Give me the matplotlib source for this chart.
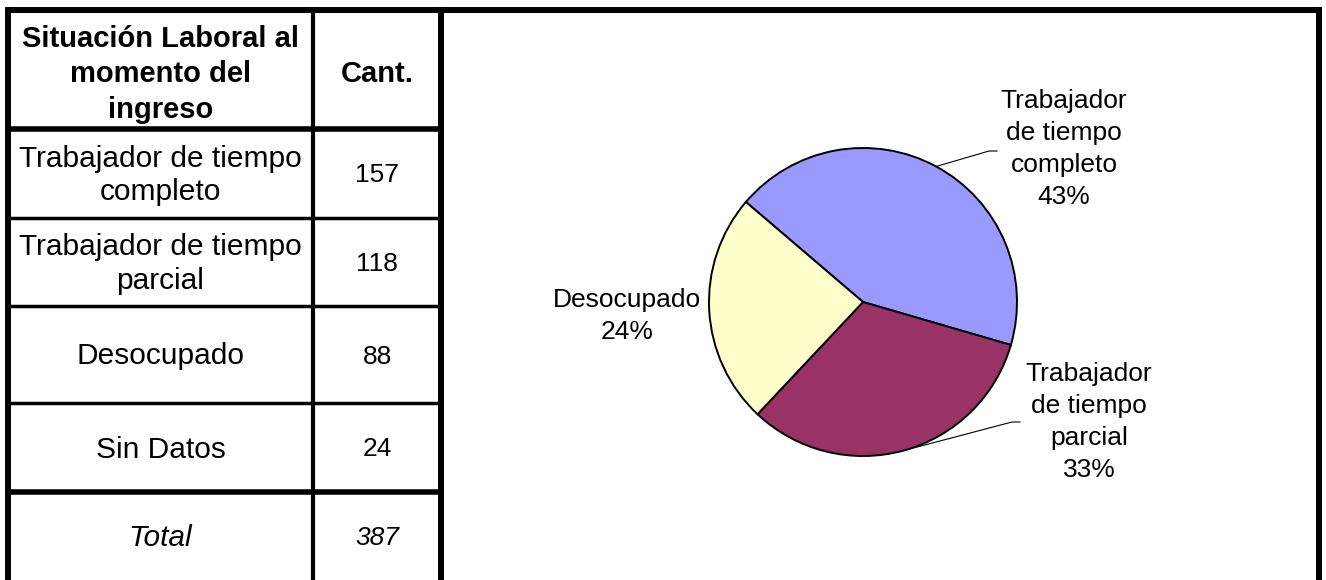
import numpy as np
import matplotlib
matplotlib.use("Agg")
import matplotlib.pyplot as plt

plt.rcParams['font.family'] = ['Liberation Sans', 'DejaVu Sans']

# data
header = ["Situación Laboral al\nmomento del\ningreso", "Cant."]
row_labels = ["Trabajador de tiempo\ncompleto", "Trabajador de tiempo\nparcial",
              "Desocupado", "Sin Datos"]
counts = [157, 118, 88, 24]
total = 387
pie_labels = ["Trabajador\nde tiempo\ncompleto", "Trabajador\nde tiempo\nparcial", "Desocupado"]
pie_values = [157, 118, 88]
pie_colors = ["#9999FF", "#993366", "#FFFFCC"]

W, H = 1326, 580
fig = plt.figure(figsize=(W / 100, H / 100), dpi=100)
ax = fig.add_axes([0, 0, 1, 1])
ax.set_xlim(0, W)
ax.set_ylim(H, 0)
ax.axis("off")

# table grid (pixel coordinates)
x_left, x_mid, x_right, x_end = 8, 313, 441, 1319
y_top = 9.5
row_edges = [129, 218, 306, 403, 492, 585]

ax.plot([x_left, x_end], [y_top, y_top], color="black", lw=4.3, solid_capstyle="projecting")
for x in (x_left, x_right, x_end):
    ax.plot([x, x], [y_top, H + 5], color="black", lw=4.3)
ax.plot([x_mid, x_mid], [y_top, H + 5], color="black", lw=3.0)
for i, y in enumerate(row_edges[:-1]):
    lw = 4.0 if i in (0, 4) else 2.5
    ax.plot([x_left, x_right], [y, y], color="black", lw=lw)

fs = 21.5
c1, c2 = (x_left + x_mid) / 2, (x_mid + x_right) / 2
ax.text(c1, (y_top + row_edges[0]) / 2 + 5, header[0], ha="center", va="center",
        fontsize=21, fontweight="bold", linespacing=1.35)
ax.text(c2, (y_top + row_edges[0]) / 2 + 5, header[1], ha="center", va="center",
        fontsize=21, fontweight="bold")
for i, (lab, val) in enumerate(zip(row_labels, counts)):
    yc = (row_edges[i] + row_edges[i + 1]) / 2 + 2
    ax.text(c1, yc, lab, ha="center", va="center", fontsize=fs, linespacing=1.25)
    ax.text(c2, yc, str(val), ha="center", va="center", fontsize=19)
yc = (row_edges[4] + 580) / 2 + 2
ax.text(c1, yc, "Total", ha="center", va="center", fontsize=fs, style="italic")
ax.text(c2, yc, str(total), ha="center", va="center", fontsize=19, style="italic")

# pie
cx, cy, r = 863, 302, 154
pax = fig.add_axes([(cx - r) / W, (H - cy - r) / H, 2 * r / W, 2 * r / H])
wedges, _ = pax.pie(pie_values, colors=pie_colors, startangle=139.5, counterclock=False,
                    wedgeprops=dict(edgecolor="black", linewidth=1.4))
pax.set_xlim(-1, 1)
pax.set_ylim(-1, 1)
pax.axis("off")

pct = [f"{v / sum(pie_values) * 100:.0f}%" for v in pie_values]
label_pos = [(1064, 149), (1089, 422), (627, 316)]
leader_end = [(997, 151), (1020, 422), None]
for w, lab, p, (lx, ly), end in zip(wedges, pie_labels, pct, label_pos, leader_end):
    ax.text(lx, ly, lab + "\n" + p, ha="center", va="center", fontsize=19, linespacing=1.42)
    if end is not None:
        th = np.deg2rad((w.theta1 + w.theta2) / 2)
        sx, sy = cx + r * np.cos(th), cy - r * np.sin(th)
        ax.plot([sx, end[0] - 8, end[0]], [sy, end[1], end[1]], color="black", lw=0.8)

fig.savefig("out.png", dpi=100)
